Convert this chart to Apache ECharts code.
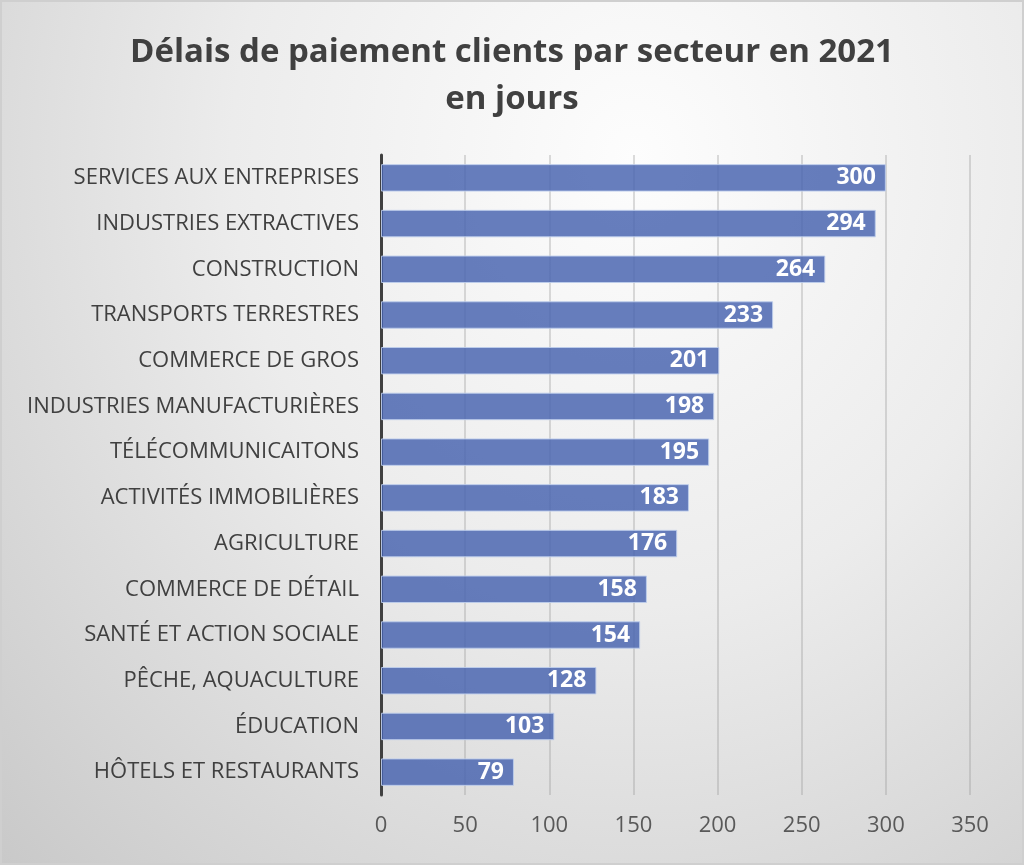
<!DOCTYPE html>
<html style="height: 100%">
<head>
    <meta charset="UTF-8">
    <script type="text/javascript" src="https://cdn.jsdelivr.net/npm/echarts@6/dist/echarts.min.js"></script>
    <style type="text/css">
        body {margin:0; padding:0; overflow:hidden; height: 100%}
        #frame {
            position: absolute; left: 0; top: 0; right: 0; bottom: 0;
            border: 2px solid #cfcfcf;
            background: radial-gradient(ellipse at 62% 18%, #fdfdfd 0%, #ececec 45%, #c9c9c9 100%);
        }
    </style>
</head>
<body>
    <div id="frame">
        <div id="container" style="width:100%;height:100%"></div>
    </div>
<script>
    // secteurs, du haut vers le bas
    var secteurs = ['SERVICES AUX ENTREPRISES', 'INDUSTRIES EXTRACTIVES', 'CONSTRUCTION',
        'TRANSPORTS TERRESTRES', 'COMMERCE DE GROS', 'INDUSTRIES MANUFACTURIÈRES',
        'TÉLÉCOMMUNICAITONS', 'ACTIVITÉS IMMOBILIÈRES', 'AGRICULTURE', 'COMMERCE DE DÉTAIL',
        'SANTÉ ET ACTION SOCIALE', 'PÊCHE, AQUACULTURE', 'ÉDUCATION', 'HÔTELS ET RESTAURANTS'];
    var delais = [300, 294, 264, 233, 201, 198, 195, 183, 176, 158, 154, 128, 103, 79];
    var axeMax = 350;
    var axePas = 50;

    var myChart = echarts.init(document.getElementById('container'));

    var option = {
        backgroundColor: 'transparent',
        textStyle: {fontFamily: '"Open Sans", "Noto Sans", sans-serif'},
        title: {
            text: 'Délais de paiement clients par secteur en 2021\nen jours',
            left: 'center',
            top: 22,
            textStyle: {
                fontSize: 33,
                fontWeight: 'bold',
                color: '#404040',
                lineHeight: 47,
                fontFamily: '"Open Sans", sans-serif'
            }
        },
        grid: {
            left: 379,
            right: 52,
            top: 153,
            bottom: 68,
            containLabel: false
        },
        xAxis: {
            type: 'value',
            min: 0,
            max: axeMax,
            interval: axePas,
            axisLine: {show: false},
            axisTick: {show: false},
            splitLine: {lineStyle: {color: 'rgba(150,150,150,0.45)', width: 1.5}},
            axisLabel: {
                color: '#595959',
                fontSize: 22,
                margin: 20
            }
        },
        yAxis: {
            type: 'category',
            inverse: true,
            data: secteurs,
            axisLine: {lineStyle: {color: '#404040', width: 3}},
            axisTick: {show: false},
            axisLabel: {
                color: '#404040',
                fontSize: 22,
                margin: 22
            }
        },
        series: [{
            type: 'bar',
            data: delais,
            barCategoryGap: '40%',
            itemStyle: {
                color: 'rgba(70,98,175,0.82)',
                borderColor: 'rgba(190,205,235,0.9)',
                borderWidth: 1
            },
            label: {
                show: true,
                position: 'insideRight',
                distance: 10,
                color: '#ffffff',
                fontWeight: 'bold',
                fontSize: 23
            }
        }]
    };
    myChart.setOption(option);

    window.addEventListener("resize", function () {
        myChart.resize();
    });
</script>
</body>
</html>
